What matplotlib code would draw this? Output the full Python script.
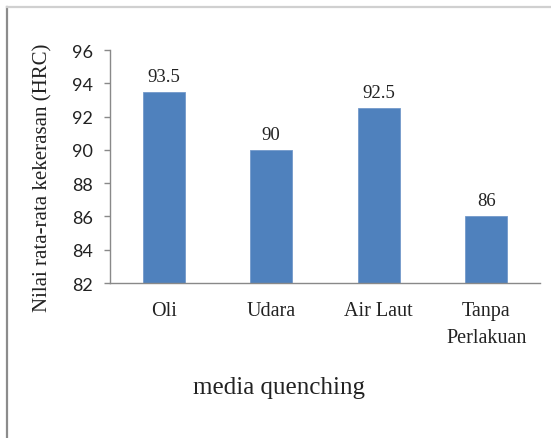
import matplotlib
matplotlib.use("Agg")
import matplotlib.pyplot as plt
from matplotlib.lines import Line2D

# Average hardness per quenching medium
categories = ["Oli", "Udara", "Air Laut", "Tanpa\nPerlakuan"]
hardness = [93.5, 90, 92.5, 86]
value_labels = ["93.5", "90", "92.5", "86"]
y_ticks = [82, 84, 86, 88, 90, 92, 94, 96]

W, H = 551, 439
fig = plt.figure(figsize=(W / 100, H / 100), dpi=100)
ax = fig.add_axes([110 / W, 1 - 284 / H, 430 / W, 233 / H])

x = list(range(len(categories)))
bars = ax.bar(x, hardness, width=0.39, color="#4F81BD",
              edgecolor="#7399CB", linewidth=0.6)

ax.set_xlim(-0.5, len(categories) - 0.5)
ax.set_ylim(82, 96)
ax.set_yticks(y_ticks)
ax.set_xticks(x)
ax.set_xticklabels(categories, fontfamily="Liberation Serif", fontsize=14.5,
                   linespacing=1.6, color="#222222")

ax.tick_params(axis="x", length=0, pad=13)
ax.tick_params(axis="y", length=4, width=1, color="#898989", pad=8,
               labelsize=13, labelcolor="#222222")
for lbl in ax.get_yticklabels():
    lbl.set_fontfamily("Lato")

for side in ["top", "right"]:
    ax.spines[side].set_visible(False)
for side in ["left", "bottom"]:
    ax.spines[side].set_color("#898989")
    ax.spines[side].set_linewidth(1)

# Values above each bar
ax.bar_label(bars, labels=value_labels, padding=5, fontsize=13.5,
             fontfamily="Liberation Serif", color="#222222")

ax.set_ylabel("Nilai rata-rata kekerasan (HRC)", fontfamily="Liberation Serif",
              fontsize=15, va="center", color="#222222")
ax.yaxis.set_label_coords(-0.156, 0.455)
ax.set_xlabel("media quenching", fontfamily="Liberation Serif", fontsize=18,
              va="center", color="#222222")
ax.xaxis.set_label_coords(0.392, -0.446)

# Outer frame (left and top edges)
fig.add_artist(Line2D([7 / W, 7 / W], [0, 1 - 8 / H], transform=fig.transFigure,
                      color="#8c8c8c", lw=1.6))
fig.add_artist(Line2D([7 / W, 1], [1 - 8 / H, 1 - 8 / H], transform=fig.transFigure,
                      color="#d0d0d0", lw=1.6))

fig.savefig("out.png", dpi=100)
